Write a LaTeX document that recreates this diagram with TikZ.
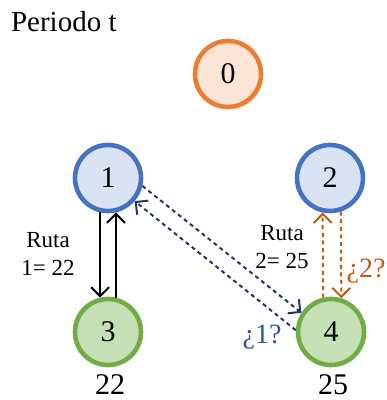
\documentclass[tikz,border=0pt]{standalone}
\usepackage{fontspec}
\setmainfont{Liberation Serif}
\usepackage{xcolor}
\usepackage{tikz}
\usetikzlibrary{arrows.meta}
\definecolor{rtblue}{HTML}{4472C4}
\definecolor{rtbluefill}{HTML}{DAE3F3}
\definecolor{rtgreen}{HTML}{70AD47}
\definecolor{rtgreenfill}{HTML}{C5E0B4}
\definecolor{rtorange}{HTML}{ED7D31}
\definecolor{rtorangefill}{HTML}{FBE5D6}
\definecolor{rtnavy}{HTML}{1F3864}
\definecolor{rtrust}{HTML}{C55A11}
\definecolor{rtsteel}{HTML}{2F5597}

\begin{document}
\begin{tikzpicture}[x=0.5pt,y=-0.5pt,
      nodo/.style={circle,draw,line width=2.3pt,minimum size=33pt,inner sep=0pt,
                   font=\fontsize{15}{18}\selectfont},
      cd/.style={nodo,draw=rtblue,fill=rtbluefill},
      cl/.style={nodo,draw=rtgreen,fill=rtgreenfill},
      dep/.style={nodo,draw=rtorange,fill=rtorangefill},
      arr/.style={-{Straight Barb[length=4.5pt,width=9pt]},line width=1pt},
      darr/.style={arr,dash pattern=on 2pt off 1.8pt},
      lbl/.style={align=center,font=\fontsize{11.5}{14}\selectfont}]
    \useasboundingbox (0,0) rectangle (386,400);
    \node[anchor=west,font=\fontsize{14.5}{17}\selectfont] (titulo) at (4,22) {Periodo t};
    % deposito y nodos
    \node[dep] (n0) at (228,74) {0};
    \node[cd] (n1) at (108,178) {1};
    \node[cd] (n2) at (330,178) {2};
    \node[cl] (n3) at (108,332) {3};
    \node[cl] (n4) at (331,332) {4};
    \node[font=\fontsize{15}{18}\selectfont] (d3) at (110,385) {22};
    \node[font=\fontsize{15}{18}\selectfont] (d4) at (333,385) {25};
    % rutas
    \node[lbl] (r1) at (48,254) {Ruta\\1= 22};
    \node[lbl] (r2) at (282,247) {Ruta\\2= 25};
    \draw[arr] (n1.257) -- (n3.103);
    \draw[arr] (n3.77) -- (n1.283);
    \draw[darr,rtrust] (n4.103) -- (n2.258);
    \draw[darr,rtrust] (n2.288) -- (n4.73);
    \draw[darr,rtnavy] (n1.347) -- (n4.147);
    \draw[darr,rtnavy] (n4.177) -- (n1.319);
    \node[font=\fontsize{14}{17}\selectfont,text=rtrust] (q2) at (366,271) {¿2?};
    \node[font=\fontsize{14}{17}\selectfont,text=rtsteel] (q1) at (262,337) {¿1?};
  \end{tikzpicture}
\end{document}
